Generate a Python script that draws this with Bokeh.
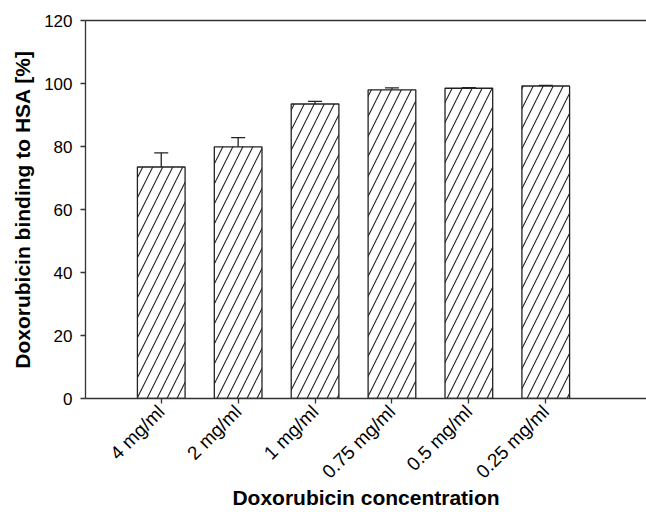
import math
from bokeh.plotting import figure
from bokeh.models import ColumnDataSource, Whisker, TeeHead, LinearAxis, FixedTicker, Range1d, Title
from bokeh.embed import file_html
from bokeh.resources import INLINE

categories = ["4 mg/ml", "2 mg/ml", "1 mg/ml", "0.75 mg/ml", "0.5 mg/ml", "0.25 mg/ml"]
binding = [73.5, 79.9, 93.5, 98.0, 98.5, 99.2]
errors = [4.5, 2.9, 0.8, 0.6, 0.2, 0.2]
y_ticks = [0, 20, 40, 60, 80, 100, 120]
x_title = "Doxorubicin concentration"
y_title = "Doxorubicin binding to HSA [%]"

xs = list(range(1, len(categories) + 1))
src = ColumnDataSource(dict(
    x=xs, top=binding,
    upper=[b + e for b, e in zip(binding, errors)],
))

p = figure(width=646, height=512, output_backend="svg", toolbar_location=None,
           x_range=Range1d(0.015, 7.31), y_range=Range1d(0, 120),
           min_border_left=83, min_border_right=0, min_border_top=20, min_border_bottom=114)
p.background_fill_color = "white"
p.border_fill_color = "white"
p.outline_line_color = None
p.grid.visible = False

p.vbar(x="x", top="top", bottom=0, width=0.62, source=src,
       fill_color="white", line_color="#222222", line_width=1.3,
       hatch_pattern="/", hatch_color="#222222", hatch_scale=20, hatch_weight=1.1)

w = Whisker(base="x", lower="top", upper="upper", source=src,
            line_color="#222222", line_width=1.3,
            upper_head=TeeHead(size=14, line_color="#222222", line_width=1.3),
            lower_head=None)
p.add_layout(w)

font = "Liberation Sans"
xa = p.xaxis[0]
xa.ticker = FixedTicker(ticks=xs)
xa.major_label_overrides = {x: c for x, c in zip(xs, categories)}
xa.major_label_orientation = math.pi / 4
xa.axis_label = x_title
ya = p.yaxis[0]
ya.ticker = FixedTicker(ticks=y_ticks)
for ax in (xa, ya):
    ax.axis_line_color = "#333333"
    ax.axis_line_width = 1.3
    ax.major_tick_line_color = "#333333"
    ax.major_tick_line_width = 1.3
    ax.major_tick_out = 5
    ax.major_tick_in = 0
    ax.minor_tick_line_color = None
    ax.major_label_text_font = font
    ax.major_label_text_font_size = "17px"
    ax.major_label_text_color = "black"
    ax.axis_label_text_font = font
    ax.axis_label_text_font_style = "bold"
    ax.axis_label_text_font_size = "21px"
    ax.axis_label_text_color = "black"
xa.major_label_text_font_size = "19px"
xa.axis_label_standoff = -7
ya.major_label_standoff = 8

ytitle = Title(text=y_title, align="center", offset=14, standoff=16,
               text_font=font, text_font_style="bold", text_font_size="21px",
               text_color="black")
p.add_layout(ytitle, "left")

top_axis = LinearAxis(ticker=FixedTicker(ticks=[]), axis_line_color="#333333",
                      axis_line_width=1.3, major_tick_line_color=None,
                      minor_tick_line_color=None, major_label_text_font_size="0px")
p.add_layout(top_axis, "above")

open("out.html", "w").write(file_html(p, INLINE))
